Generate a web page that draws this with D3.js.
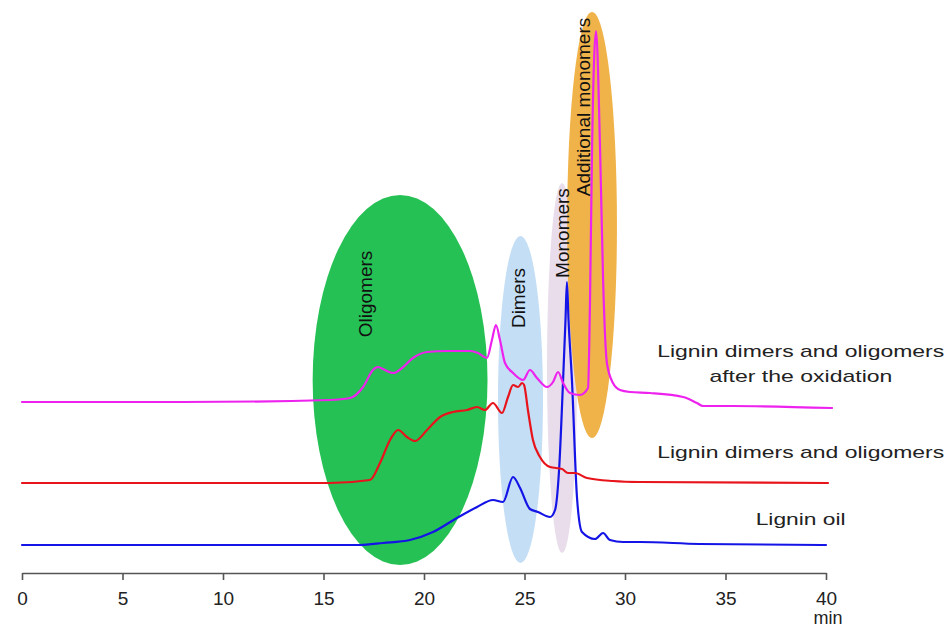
<!DOCTYPE html>
<html>
<head>
<meta charset="utf-8">
<script src="https://cdn.jsdelivr.net/npm/d3@7"></script>
<style>
  html, body { margin: 0; padding: 0; background: #fff; }
  svg { display: block; font-family: "Liberation Sans", Arial, Helvetica, sans-serif; }
</style>
</head>
<body>
<svg id="chart" width="946" height="631"></svg>
<script>
// ---------------- DATA ----------------
const xTicks = [0, 5, 10, 15, 20, 25, 30, 35, 40];
const xUnit = "min";

// Lignin oil (blue) – retention time (min) / response above its baseline
const oilTime = [0, 8, 13.8, 16.8, 17.96, 19.3, 20.45, 21.64, 22.64, 23.43, 23.93, 24.43, 24.78, 25.27, 25.67, 26.27, 26.52, 26.72, 26.92, 27.04, 27.11, 27.19, 27.36, 27.61, 27.86, 28.51, 28.91, 29.25, 29.9, 30.75, 33.7, 40];
const oilValue = [0, 0, 0, 0, 0.4, 1.0, 2.6, 5.4, 7.6, 9.0, 8.6, 13.6, 11.4, 7.2, 6.6, 5.6, 7.0, 15, 33, 45, 52.6, 45, 33, 9.6, 2.6, 1.2, 2.4, 1.0, 0.6, 0.6, 0.2, 0];

// Lignin dimers and oligomers (red)
const dimTime = [0, 8, 15.32, 17.31, 17.81, 18.31, 18.71, 19.15, 19.55, 20.15, 20.8, 21.44, 22.14, 22.64, 23.03, 23.43, 23.88, 24.18, 24.43, 24.68, 24.88, 24.98, 25.17, 25.42, 25.77, 26.27, 26.87, 27.16, 27.51, 28.11, 29.4, 30.75, 40.1];
const dimValue = [0, 0, 0, 0.6, 4, 8.6, 10.6, 9.2, 8.4, 10.6, 13.2, 14.2, 14.6, 15.2, 14.6, 16, 14, 17.2, 19.6, 19.2, 20, 19.6, 14.6, 8.6, 5.2, 3.2, 2.8, 2, 2, 1, 0.4, 0.2, 0];

// Lignin dimers and oligomers after the oxidation (magenta)
const oxTime = [0, 8, 15.32, 16.32, 16.97, 17.46, 17.71, 18.06, 18.46, 18.91, 19.45, 20.15, 21.14, 22.29, 22.69, 23.13, 23.38, 23.58, 23.78, 24.03, 24.43, 24.93, 25.27, 25.62, 26.12, 26.42, 26.67, 26.92, 27.26, 27.76, 28.16, 28.26, 28.36, 28.56, 28.76, 28.91, 29.1, 29.4, 29.75, 30.25, 31.24, 32.89, 33.58, 33.88, 35.37, 40.3];
const oxValue = [0, 0, 0.4, 0.8, 3, 6.4, 7, 6.4, 5.8, 6.8, 8.8, 10, 10.2, 10.2, 9.8, 8.8, 12.4, 15.4, 12.4, 7.8, 5.8, 4.4, 6.4, 4.8, 3, 4, 6, 3.8, 1.8, 1.4, 2.8, 20.4, 50.4, 74.2, 50.4, 24.4, 7.8, 3.8, 2.4, 2, 1.8, 1, -0.2, -0.8, -0.8, -1.2];

// vertical offsets of the three stacked traces (response units)
const traceOffsets = [5.6, 18, 34.2];
const traceNames = ["Lignin oil", "Lignin dimers and oligomers", "Lignin dimers and oligomers after the oxidation"];
const traceColors = ["#1414e6", "#e8141c", "#ee22ee"];

// highlighted fraction regions (centre time, half width in min, centre response, half height)
const regionNames = ["Oligomers", "Dimers", "Monomers", "Additional monomers"];
const regionCenterTime = [18.81, 24.8, 26.87, 28.36];
const regionHalfWidth = [4.35, 1.12, 0.75, 1.24];
const regionCenterValue = [38.6, 34.7, 41, 69.6];
const regionHalfHeight = [37, 32.7, 37, 42.6];
const regionColors = ["#26c155", "#c4def6", "#e9ddec", "#f0b34a"];
const regionLabelTime = [17.11, 24.68, 26.87, 27.96];
const regionLabelValue = [55.8, 55, 68, 93.2];

// right-hand trace labels
const legendLines = [
  { text: "Lignin dimers and oligomers", time: 31.6, value: 43.2, len: 287 },
  { text: "after the oxidation", time: 34.2, value: 38.2, len: 183 },
  { text: "Lignin dimers and oligomers", time: 31.6, value: 23, len: 287 },
  { text: "Lignin oil", time: 36.5, value: 9.6, len: 90 }
];

// ---------------- CHART ----------------
const svg = d3.select("#chart");
const x = d3.scaleLinear().domain([0, 40]).range([22, 826]);
const y = d3.scaleLinear().domain([0, 110]).range([573, 23]);

// regions
const gReg = svg.append("g");
regionNames.forEach((n, i) => {
  gReg.append("ellipse")
    .attr("cx", x(regionCenterTime[i]))
    .attr("cy", y(regionCenterValue[i]))
    .attr("rx", x(regionHalfWidth[i]) - x(0))
    .attr("ry", y(0) - y(regionHalfHeight[i]))
    .attr("fill", regionColors[i]);
});

// traces
const series = [
  { t: oilTime, v: oilValue },
  { t: dimTime, v: dimValue },
  { t: oxTime, v: oxValue }
];
const line = d3.line().curve(d3.curveMonotoneX);
series.forEach((s, i) => {
  const pts = s.t.map((t, j) => [x(t), y(s.v[j] + traceOffsets[i])]);
  svg.append("path")
    .attr("d", line(pts))
    .attr("fill", "none")
    .attr("stroke", traceColors[i])
    .attr("stroke-width", 2.2)
    .attr("stroke-linejoin", "round")
    .attr("stroke-linecap", "round");
});

// region labels (rotated)
regionNames.forEach((n, i) => {
  svg.append("text")
    .attr("transform", `translate(${x(regionLabelTime[i])},${y(regionLabelValue[i])}) rotate(-90)`)
    .attr("text-anchor", "middle")
    .attr("dominant-baseline", "central")
    .attr("font-size", 19)
    .attr("fill", "#111")
    .text(n);
});

// right labels
legendLines.forEach(d => {
  svg.append("text")
    .attr("x", x(d.time))
    .attr("y", y(d.value))
    .attr("font-size", 17)
    .attr("fill", "#222")
    .attr("textLength", d.len)
    .attr("lengthAdjust", "spacingAndGlyphs")
    .text(d.text);
});

// x axis
const axis = d3.axisBottom(x).tickValues(xTicks).tickSize(7).tickSizeOuter(0).tickPadding(12);
const gAx = svg.append("g").attr("transform", `translate(0,${y(0)})`).call(axis);
gAx.select(".domain").attr("stroke", "#555").attr("stroke-width", 1.6);
gAx.selectAll(".tick line").attr("stroke", "#555").attr("stroke-width", 1.6);
gAx.selectAll(".tick text")
  .attr("font-size", 19)
  .attr("font-family", "Liberation Sans, Arial, sans-serif")
  .attr("fill", "#222");

svg.append("text")
  .attr("x", x(40.1))
  .attr("y", 624)
  .attr("text-anchor", "middle")
  .attr("font-size", 18)
  .attr("fill", "#222")
  .text(xUnit);
</script>
</body>
</html>
